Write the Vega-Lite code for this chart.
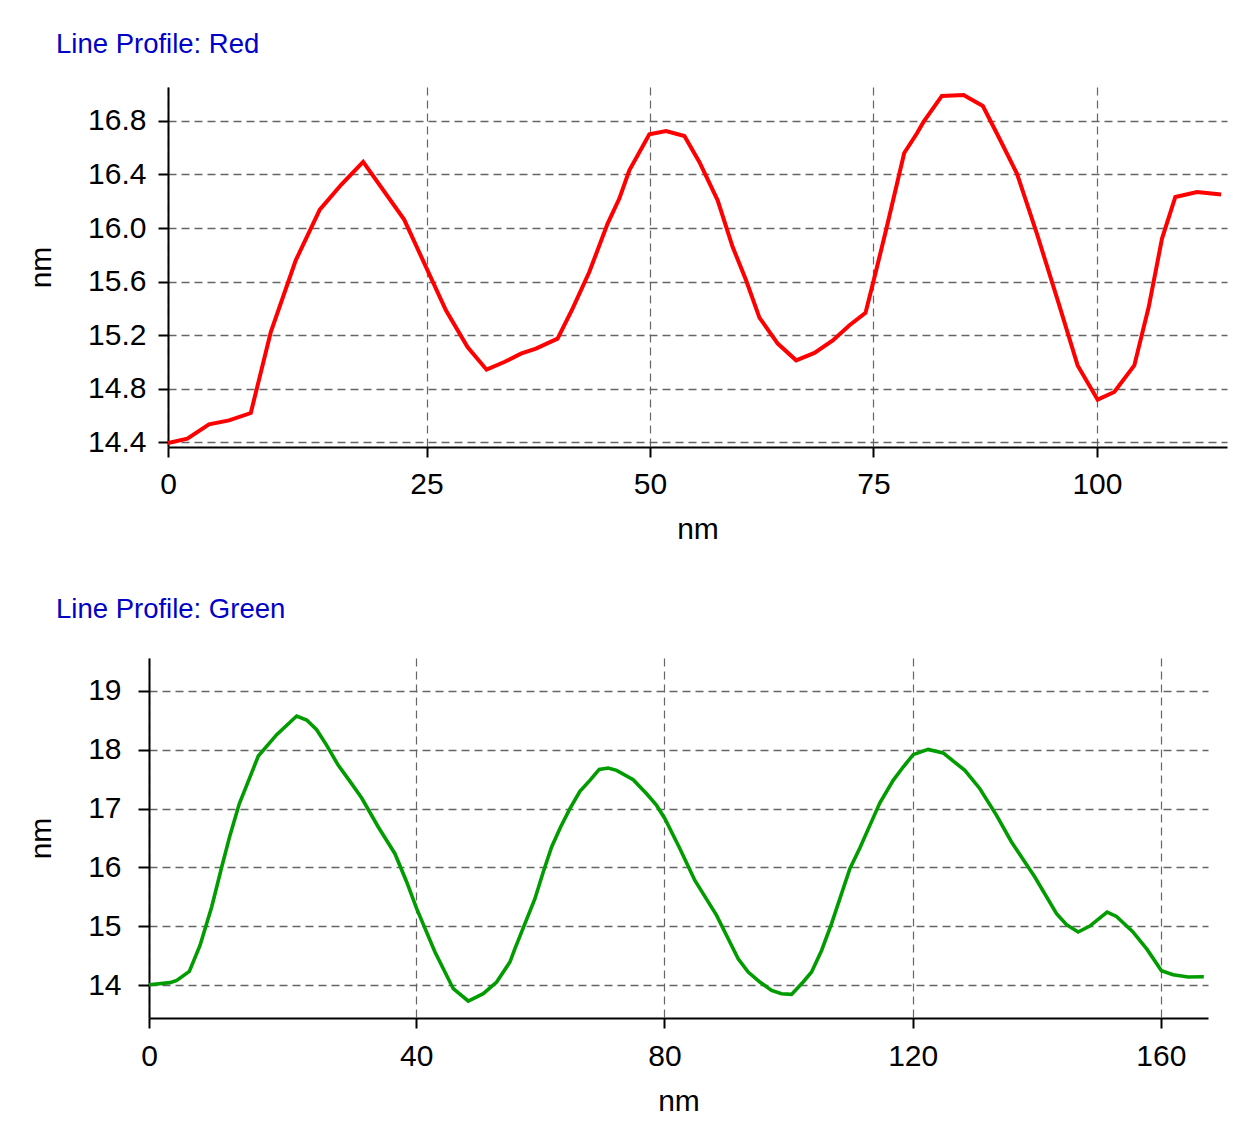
{
  "$schema": "https://vega.github.io/schema/vega-lite/v6.json",
  "padding": {"left": 25, "top": 30, "right": 5, "bottom": 5},
  "background": "white",
  "spacing": 51,
  "config": {
    "font": "Liberation Sans",
    "view": {"stroke": null},
    "concat": {"spacing": 0},
    "axis": {
      "labelFont": "Liberation Sans",
      "titleFont": "Liberation Sans",
      "labelFontSize": 30,
      "titleFontSize": 30,
      "titleFontWeight": "normal",
      "labelColor": "black",
      "titleColor": "black",
      "domainColor": "black",
      "domainWidth": 2,
      "tickColor": "black",
      "tickWidth": 2,
      "gridColor": "#666666",
      "gridDash": [8, 5],
      "gridWidth": 1.4,
      "labelFlush": false,
      "labelOverlap": false
    },
    "title": {"font": "Liberation Sans", "fontSize": 27.5, "fontWeight": "normal", "color": "#0000c8", "anchor": "start", "frame": "group"}
  },
  "datasets": {
    "red": [
      {"x": -3.92, "y": 14.393}, {"x": -1.76, "y": 14.425}, {"x": 0.67, "y": 14.532}, {"x": 2.91, "y": 14.562},
      {"x": 5.34, "y": 14.617}, {"x": 7.58, "y": 15.222}, {"x": 10.37, "y": 15.758}, {"x": 13.06, "y": 16.137},
      {"x": 15.5, "y": 16.327}, {"x": 17.91, "y": 16.494}, {"x": 22.5, "y": 16.063}, {"x": 27.17, "y": 15.385},
      {"x": 29.59, "y": 15.11}, {"x": 31.72, "y": 14.941}, {"x": 33.7, "y": 14.998}, {"x": 35.56, "y": 15.061},
      {"x": 37.24, "y": 15.098}, {"x": 39.66, "y": 15.173}, {"x": 41.34, "y": 15.397}, {"x": 43.21, "y": 15.671},
      {"x": 45.26, "y": 16.033}, {"x": 46.57, "y": 16.22}, {"x": 47.69, "y": 16.431}, {"x": 49.93, "y": 16.7},
      {"x": 51.8, "y": 16.725}, {"x": 53.85, "y": 16.688}, {"x": 55.52, "y": 16.494}, {"x": 57.57, "y": 16.207},
      {"x": 59.25, "y": 15.858}, {"x": 60.75, "y": 15.609}, {"x": 62.24, "y": 15.33}, {"x": 64.29, "y": 15.136},
      {"x": 66.35, "y": 15.011}, {"x": 68.4, "y": 15.066}, {"x": 70.45, "y": 15.16}, {"x": 72.32, "y": 15.273},
      {"x": 74.11, "y": 15.365}, {"x": 75.12, "y": 15.634}, {"x": 76.49, "y": 16.007}, {"x": 78.44, "y": 16.561},
      {"x": 79.85, "y": 16.706}, {"x": 80.6, "y": 16.793}, {"x": 82.65, "y": 16.987}, {"x": 85.08, "y": 16.994},
      {"x": 87.24, "y": 16.912}, {"x": 89.19, "y": 16.656}, {"x": 91.05, "y": 16.407}, {"x": 93.28, "y": 15.958},
      {"x": 95.71, "y": 15.439}, {"x": 97.84, "y": 14.973}, {"x": 100.08, "y": 14.717}, {"x": 101.94, "y": 14.774},
      {"x": 104.18, "y": 14.973}, {"x": 105.79, "y": 15.409}, {"x": 107.28, "y": 15.921}, {"x": 108.77, "y": 16.232},
      {"x": 111.2, "y": 16.269}, {"x": 113.89, "y": 16.25}
    ],
    "green": [
      {"x": -3.08, "y": 14.005}, {"x": 0.31, "y": 14.04}, {"x": 1.39, "y": 14.078}, {"x": 3.42, "y": 14.232},
      {"x": 5.14, "y": 14.673}, {"x": 7.02, "y": 15.327}, {"x": 8.64, "y": 16.007}, {"x": 9.97, "y": 16.544},
      {"x": 11.47, "y": 17.083}, {"x": 12.66, "y": 17.395}, {"x": 14.54, "y": 17.895}, {"x": 17.5, "y": 18.257},
      {"x": 20.72, "y": 18.575}, {"x": 22.33, "y": 18.507}, {"x": 23.94, "y": 18.342}, {"x": 25.56, "y": 18.075},
      {"x": 27.43, "y": 17.735}, {"x": 29.31, "y": 17.463}, {"x": 31.2, "y": 17.18}, {"x": 33.87, "y": 16.687},
      {"x": 36.56, "y": 16.233}, {"x": 38.45, "y": 15.752}, {"x": 40.06, "y": 15.298}, {"x": 43.01, "y": 14.561},
      {"x": 45.96, "y": 13.937}, {"x": 48.37, "y": 13.728}, {"x": 50.79, "y": 13.852}, {"x": 52.95, "y": 14.051},
      {"x": 55.09, "y": 14.391}, {"x": 55.9, "y": 14.617}, {"x": 57.51, "y": 15.043}, {"x": 59.12, "y": 15.468},
      {"x": 60.46, "y": 15.922}, {"x": 61.81, "y": 16.347}, {"x": 63.26, "y": 16.687}, {"x": 64.76, "y": 16.998},
      {"x": 66.37, "y": 17.293}, {"x": 67.98, "y": 17.48}, {"x": 69.48, "y": 17.667}, {"x": 70.93, "y": 17.69},
      {"x": 72.28, "y": 17.65}, {"x": 74.96, "y": 17.491}, {"x": 77.12, "y": 17.253}, {"x": 78.73, "y": 17.054},
      {"x": 80.07, "y": 16.828}, {"x": 82.49, "y": 16.318}, {"x": 84.9, "y": 15.779}, {"x": 88.4, "y": 15.184},
      {"x": 90.27, "y": 14.787}, {"x": 91.88, "y": 14.447}, {"x": 93.49, "y": 14.221}, {"x": 95.38, "y": 14.051},
      {"x": 97.26, "y": 13.908}, {"x": 98.87, "y": 13.852}, {"x": 100.48, "y": 13.84}, {"x": 102.35, "y": 14.051},
      {"x": 103.71, "y": 14.221}, {"x": 105.32, "y": 14.588}, {"x": 106.93, "y": 15.043}, {"x": 108.27, "y": 15.468},
      {"x": 109.88, "y": 15.978}, {"x": 111.49, "y": 16.33}, {"x": 113.1, "y": 16.715}, {"x": 114.72, "y": 17.1},
      {"x": 116.86, "y": 17.48}, {"x": 118.47, "y": 17.707}, {"x": 120.08, "y": 17.917}, {"x": 122.49, "y": 18.007},
      {"x": 124.91, "y": 17.946}, {"x": 128.41, "y": 17.65}, {"x": 130.83, "y": 17.338}, {"x": 133.52, "y": 16.884},
      {"x": 135.93, "y": 16.432}, {"x": 139.69, "y": 15.837}, {"x": 143.19, "y": 15.213}, {"x": 144.8, "y": 15.026},
      {"x": 146.67, "y": 14.901}, {"x": 148.55, "y": 15.003}, {"x": 151.34, "y": 15.241}, {"x": 152.85, "y": 15.167},
      {"x": 155.43, "y": 14.912}, {"x": 157.78, "y": 14.605}, {"x": 160.1, "y": 14.243}, {"x": 161.97, "y": 14.175},
      {"x": 164.39, "y": 14.136}, {"x": 166.92, "y": 14.141}
    ]
  },
  "vconcat": [
    {
      "hconcat": [
        {
          "width": 1,
          "height": 1,
          "data": {"values": []},
          "mark": "point"
        },
        {
          "width": 1059,
          "height": 360,
          "title": {"text": "Line Profile: Red", "dx": -112, "offset": 29},
          "data": {"name": "red"},
          "mark": {"type": "line", "color": "#ff0000", "strokeWidth": 4, "clip": true},
          "encoding": {
            "x": {
              "field": "x", "type": "quantitative",
              "scale": {"domain": [-3.92, 114.55], "nice": false, "zero": false},
              "axis": {
                "title": "nm", "values": [-3.92, 25, 50, 75, 100],
                "labelExpr": "datum.value < 0 ? '0' : datum.label",
                "tickSize": 10, "labelPadding": 12, "titlePadding": 15, "gridWidth": 1.2
              }
            },
            "y": {
              "field": "y", "type": "quantitative",
              "scale": {"domain": [14.363, 17.054], "nice": false, "zero": false},
              "axis": {
                "title": "nm", "values": [14.4, 14.8, 15.2, 15.6, 16.0, 16.4, 16.8], "format": ".1f",
                "tickSize": 10, "labelPadding": 12, "titlePadding": 31
              }
            }
          }
        }
      ]
    },
    {
      "hconcat": [
        {
          "width": 1,
          "height": 1,
          "data": {"values": []},
          "mark": "point"
        },
        {
          "width": 1059,
          "height": 360,
          "title": {"text": "Line Profile: Green", "dx": -93, "offset": 35},
          "data": {"name": "green"},
          "mark": {"type": "line", "color": "#009c00", "strokeWidth": 3.6, "clip": true},
          "encoding": {
            "x": {
              "field": "x", "type": "quantitative",
              "scale": {"domain": [-3.08, 167.6], "nice": false, "zero": false},
              "axis": {
                "title": "nm", "values": [-3.08, 40, 80, 120, 160],
                "labelExpr": "datum.value < 0 ? '0' : datum.label",
                "tickSize": 10, "labelPadding": 13, "titlePadding": 15, "gridWidth": 1.2
              }
            },
            "y": {
              "field": "y", "type": "quantitative",
              "scale": {"domain": [13.439, 19.561], "nice": false, "zero": false},
              "axis": {
                "title": "nm", "values": [14, 15, 16, 17, 18, 19],
                "tickSize": 11, "labelPadding": 17, "titlePadding": 31
              }
            }
          }
        }
      ]
    }
  ]
}
